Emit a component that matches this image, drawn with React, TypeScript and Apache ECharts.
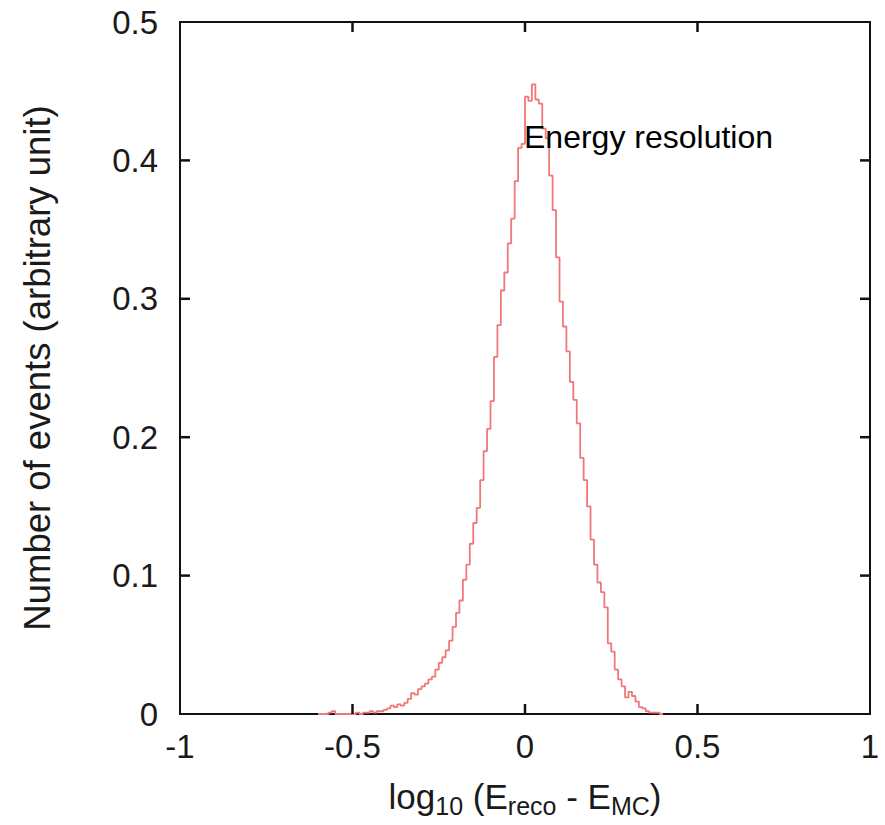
import React, { useEffect, useRef } from "react";
import * as echarts from "echarts";

// Histogram bins: left edge start and width (log10 units)
const binStart = -0.6;
const binWidth = 0.01;
// Bin contents (normalised, arbitrary unit)
const binValues: number[] = [
  0, 0, 0, 0.001, 0.002, 0, 0, 0, 0, 0,
  0, 0.001, 0, 0.001, 0.001, 0.002, 0.001, 0.002, 0.002, 0.003,
  0.004, 0.006, 0.005, 0.007, 0.006, 0.008, 0.011, 0.015, 0.014, 0.018,
  0.02, 0.022, 0.025, 0.027, 0.032, 0.037, 0.041, 0.046, 0.053, 0.063,
  0.073, 0.082, 0.097, 0.108, 0.123, 0.138, 0.149, 0.169, 0.19, 0.206,
  0.226, 0.258, 0.281, 0.306, 0.319, 0.34, 0.358, 0.385, 0.409, 0.412,
  0.446, 0.443, 0.455, 0.444, 0.441, 0.423, 0.416, 0.389, 0.364, 0.33,
  0.298, 0.28, 0.262, 0.24, 0.227, 0.21, 0.185, 0.169, 0.15, 0.126,
  0.108, 0.095, 0.088, 0.077, 0.051, 0.045, 0.032, 0.025, 0.02, 0.012,
  0.016, 0.013, 0.009, 0.005, 0.004, 0.002, 0.001, 0.001, 0.001, 0,
];

const xTicks = [-1, -0.5, 0, 0.5, 1];
const yTicks = [0, 0.1, 0.2, 0.3, 0.4, 0.5];
const yAxisTitle = "Number of events (arbitrary unit)";
const annotation = "Energy resolution";

const FONT = "'Liberation Sans', Arial, Helvetica, sans-serif";
const X_MIN = -1, X_MAX = 1, Y_MIN = 0, Y_MAX = 0.5;
const TICK_LEN = 10;

const frameLine = () => ({ show: true, onZero: false, lineStyle: { color: "#111", width: 2 } });

export default function App() {
  const ref = useRef<HTMLDivElement>(null);

  useEffect(() => {
    if (!ref.current) return;
    const chart = echarts.init(ref.current, null, { renderer: "svg" });

    const points: [number, number][] = binValues.map((v, i) => [
      +(binStart + i * binWidth).toFixed(4),
      v,
    ]);
    points.push([+(binStart + binValues.length * binWidth).toFixed(4), 0]);

    const tickStyle = { stroke: "#111", lineWidth: 2.5 };

    chart.setOption({
      animation: false,
      backgroundColor: "#ffffff",
      grid: { left: 180, right: 15, top: 22, bottom: 111, containLabel: false },
      xAxis: [
        {
          type: "value",
          min: X_MIN,
          max: X_MAX,
          interval: 0.5,
          position: "bottom",
          axisLine: frameLine(),
          axisTick: { show: false },
          splitLine: { show: false },
          axisLabel: {
            color: "#1a1a1a",
            fontSize: 33,
            fontFamily: FONT,
            margin: 16,
            formatter: (v: number) => (xTicks.includes(v) ? String(v) : ""),
          },
          name: "{n|log}{s|10}{n| (E}{s|reco}{n| - E}{s|MC}{n|)}",
          nameLocation: "middle",
          nameGap: 60,
          nameTextStyle: {
            rich: {
              n: { fontSize: 35, fontFamily: FONT, color: "#1a1a1a", lineHeight: 44 },
              s: {
                fontSize: 25,
                fontFamily: FONT,
                color: "#1a1a1a",
                lineHeight: 25,
                verticalAlign: "bottom",
              },
            },
          },
        },
        {
          type: "value",
          min: X_MIN,
          max: X_MAX,
          interval: 0.5,
          position: "top",
          axisLine: frameLine(),
          axisTick: { show: false },
          axisLabel: { show: false },
          splitLine: { show: false },
        },
      ],
      yAxis: [
        {
          type: "value",
          min: Y_MIN,
          max: Y_MAX,
          interval: 0.1,
          position: "left",
          axisLine: frameLine(),
          axisTick: { show: false },
          splitLine: { show: false },
          axisLabel: {
            color: "#1a1a1a",
            fontSize: 33,
            fontFamily: FONT,
            margin: 22,
            formatter: (v: number) => {
              const t = yTicks.find((y) => Math.abs(y - v) < 1e-9);
              return t === undefined ? "" : t === 0 ? "0" : t.toFixed(1);
            },
          },
          name: yAxisTitle,
          nameLocation: "middle",
          nameRotate: 90,
          nameGap: 124,
          nameTextStyle: { fontSize: 36.5, fontFamily: FONT, color: "#1a1a1a" },
        },
        {
          type: "value",
          min: Y_MIN,
          max: Y_MAX,
          interval: 0.1,
          position: "right",
          axisLine: frameLine(),
          axisTick: { show: false },
          axisLabel: { show: false },
          splitLine: { show: false },
        },
      ],
      graphic: [
        {
          type: "text",
          x: 524,
          y: 137,
          z: 10,
          style: {
            text: annotation,
            font: `32px ${FONT}`,
            fill: "#000",
            verticalAlign: "middle",
          },
        },
      ],
      series: [
        {
          type: "line",
          xAxisIndex: 0,
          yAxisIndex: 0,
          data: points,
          step: "end",
          symbol: "none",
          lineStyle: { color: "#f07878", width: 1.8 },
          z: 2,
        },
        // inward ticks on bottom and top (mirror) x axes
        {
          type: "custom",
          xAxisIndex: 0,
          yAxisIndex: 0,
          clip: false,
          silent: true,
          z: 5,
          data: xTicks.filter((v) => v > X_MIN && v < X_MAX).map((v) => [v, Y_MIN]),
          renderItem: (_p: any, api: any) => {
            const v = api.value(0);
            const b = api.coord([v, Y_MIN]);
            const t = api.coord([v, Y_MAX]);
            return {
              type: "group",
              children: [
                { type: "line", shape: { x1: b[0], y1: b[1], x2: b[0], y2: b[1] - TICK_LEN }, style: tickStyle },
                { type: "line", shape: { x1: t[0], y1: t[1], x2: t[0], y2: t[1] + TICK_LEN }, style: tickStyle },
              ],
            };
          },
        },
        // inward ticks on left and right (mirror) y axes
        {
          type: "custom",
          xAxisIndex: 0,
          yAxisIndex: 0,
          clip: false,
          silent: true,
          z: 5,
          data: yTicks.filter((v) => v > Y_MIN && v < Y_MAX).map((v) => [X_MIN, v]),
          renderItem: (_p: any, api: any) => {
            const v = api.value(1);
            const l = api.coord([X_MIN, v]);
            const r = api.coord([X_MAX, v]);
            return {
              type: "group",
              children: [
                { type: "line", shape: { x1: l[0], y1: l[1], x2: l[0] + TICK_LEN, y2: l[1] }, style: tickStyle },
                { type: "line", shape: { x1: r[0], y1: r[1], x2: r[0] - TICK_LEN, y2: r[1] }, style: tickStyle },
              ],
            };
          },
        },
      ],
    });

    return () => chart.dispose();
  }, []);

  return (
    <div
      ref={ref}
      style={{ position: "absolute", left: 0, top: 0, width: 885, height: 825 }}
    />
  );
}
